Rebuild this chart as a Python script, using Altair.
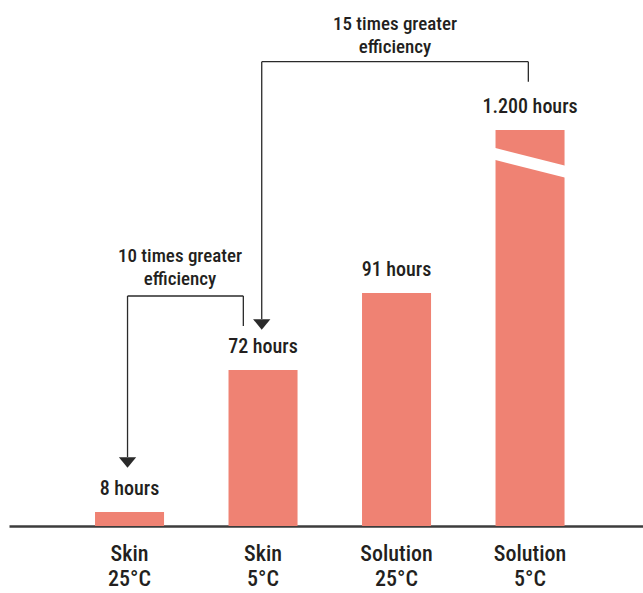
import altair as alt
import pandas as pd

# ---- data ----
categories = ["Skin 25°C", "Skin 5°C", "Solution 25°C", "Solution 5°C"]
hours = [8, 72, 91, 1200]
value_labels = ["8 hours", "72 hours", "91 hours", "1.200 hours"]
note_texts = ["10 times greater\nefficiency", "15 times greater\nefficiency"]
note_from = ["Skin 25°C", "Skin 5°C"]
note_to = ["Skin 5°C", "Solution 5°C"]

# broken (non-proportional) value axis: piecewise display scale
break_domain = [0, 8, 72, 91, 1200]
break_range = [526, 512, 370, 293, 130]

FONT = ("Noto Sans ExtraCondensed, Noto Sans Condensed, Roboto Condensed, "
        "Liberation Sans Narrow, DejaVu Sans Condensed, sans-serif")
BAR = "#EF8273"
INK = "#231F20"
LINE = "#2a2a2a"

df = pd.DataFrame({"cat": categories, "hours": hours, "label": value_labels})
lookup = dict(zip(categories, hours))

x_scale = alt.Scale(domain=categories, paddingInner=0.483, paddingOuter=0.616, align=0.523)
y_scale = alt.Scale(domain=break_domain, range=break_range, nice=False, zero=False)

x_axis = alt.Axis(
    title=None, labelExpr="split(datum.label, ' ')", labelFont=FONT, labelFontSize=22,
    labelFontWeight=500, labelColor=INK, labelLineHeight=25, labelPadding=17, ticks=False,
    labelAngle=0, domainColor="#3c3c3c", domainWidth=2.5, grid=False,
)


def X(field="cat"):
    return alt.X(f"{field}:N", scale=x_scale, axis=x_axis)


def Y(field="hours"):
    return alt.Y(f"{field}:Q", scale=y_scale, axis=None)


def one(cat, **extra):
    d = {"cat": [cat], "hours": [lookup[cat]]}
    for k, v in extra.items():
        d[k] = [v]
    return pd.DataFrame(d)


bars = alt.Chart(df).mark_bar(color=BAR).encode(x=X(), y=Y())

values = alt.Chart(df).mark_text(
    font=FONT, fontSize=20, fontWeight=500, color=INK, dy=-17, baseline="alphabetic"
).encode(x=X(), y=Y(), text="label:N")

# white diagonal cut showing the axis break on the tallest bar
cut = alt.Chart(one("Solution 5°C", cat2="Solution 5°C", hours2=lookup["Solution 5°C"])).mark_rule(
    color="white", strokeWidth=11.6, xOffset=-40, x2Offset=40, yOffset=22.6, y2Offset=42.9
).encode(x=X(), x2="cat2:N", y=Y(), y2="hours2:Q")


def vrule(cat, dx, ya, dya, yb, dyb):
    d = pd.DataFrame({"cat": [cat], "hours": [lookup[ya]], "hours2": [lookup[yb]]})
    return alt.Chart(d).mark_rule(
        color=LINE, strokeWidth=1.3, xOffset=dx, yOffset=dya, y2Offset=dyb
    ).encode(x=X(), y=Y(), y2="hours2:Q")


def hrule(cata, dxa, catb, dxb, ya, dy):
    d = pd.DataFrame({"cat": [cata], "cat2": [catb], "hours": [lookup[ya]]})
    return alt.Chart(d).mark_rule(
        color=LINE, strokeWidth=1.3, xOffset=dxa, x2Offset=dxb, yOffset=dy
    ).encode(x=X(), x2="cat2:N", y=Y())


def arrow(cat, dx, dy):
    return alt.Chart(one(cat)).mark_point(
        shape="M-1,-0.62L1,-0.62L0,0.62Z", size=300, filled=True, opacity=1,
        color=LINE, xOffset=dx, yOffset=dy
    ).encode(x=X(), y=Y())


def note(cat, text, dx, anchor, dy):
    d = pd.DataFrame({"cat": [cat], "hours": [lookup[anchor]], "t": [text]})
    return alt.Chart(d).mark_text(
        font=FONT, fontSize=19, fontWeight=500, color=INK, lineBreak="\n", lineHeight=23,
        baseline="alphabetic", xOffset=dx, yOffset=dy
    ).encode(x=X(), y=Y(), text="t:N")


a_from, a_to = note_from[0], note_to[0]
b_from, b_to = note_from[1], note_to[1]

bracket1 = [
    vrule(a_from, -2, a_to, -74, a_from, -55),
    hrule(a_from, -2, a_to, -19.7, a_to, -74),
    vrule(a_to, -19.7, a_to, -74, a_to, -44),
    arrow(a_from, -2, -49.5),
    note(a_from, note_texts[0], 50.5, a_to, -108.3),
]
bracket2 = [
    vrule(b_from, -1.3, b_to, -68.3, b_from, -51),
    hrule(b_from, -1.3, b_to, -1.7, b_to, -68.3),
    vrule(b_to, -1.7, b_to, -68.3, b_to, -48.3),
    arrow(b_from, -1.3, -45.5),
    note("Solution 25°C", note_texts[1], -1.5, b_to, -100.5),
]

chart = alt.layer(bars, cut, values, *bracket1, *bracket2).properties(
    width=634, height=526,
    padding={"left": 9, "top": 0, "right": 0, "bottom": 67},
    autosize=alt.AutoSizeParams(type="none"),
    background="white",
).configure_view(strokeWidth=0)

chart.save("out.html", embed_options={"renderer": "svg", "actions": False})
